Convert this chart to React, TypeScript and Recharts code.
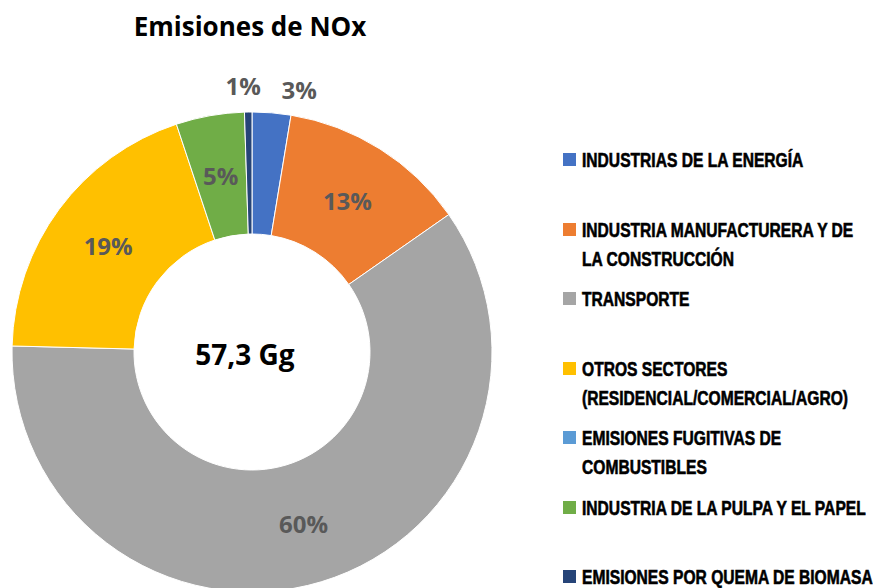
import React from "react";
import { PieChart, Pie, Cell } from "recharts";

const categories = [
  "INDUSTRIAS DE LA ENERGÍA",
  "INDUSTRIA MANUFACTURERA Y DE LA CONSTRUCCIÓN",
  "TRANSPORTE",
  "OTROS SECTORES (RESIDENCIAL/COMERCIAL/AGRO)",
  "EMISIONES FUGITIVAS DE COMBUSTIBLES",
  "INDUSTRIA DE LA PULPA Y EL PAPEL",
  "EMISIONES POR QUEMA DE BIOMASA",
];
const legendLines = [
  ["INDUSTRIAS DE LA ENERGÍA"],
  ["INDUSTRIA MANUFACTURERA Y DE", "LA CONSTRUCCIÓN"],
  ["TRANSPORTE"],
  ["OTROS SECTORES", "(RESIDENCIAL/COMERCIAL/AGRO)"],
  ["EMISIONES FUGITIVAS DE", "COMBUSTIBLES"],
  ["INDUSTRIA DE LA PULPA Y EL PAPEL"],
  ["EMISIONES POR QUEMA DE BIOMASA"],
];
const shares = [2.6, 12.7, 60.1, 19.5, 0.0, 4.6, 0.5];
const percentLabels = ["3%", "13%", "60%", "19%", "", "5%", "1%"];
const colors = ["#4472C4", "#ED7D31", "#A5A5A5", "#FFC000", "#5B9BD5", "#70AD47", "#264478"];
const outsideLabel = [true, false, false, false, false, false, true];
const labelAngleNudge = [-5.5, 0, 0, 0, 0, 0, 1];
const title = "Emisiones de NOx";
const centerText = "57,3 Gg";

const data = categories.map((name, i) => ({ name, value: shares[i] }));

const RAD = Math.PI / 180;

const renderLabel = (props: any) => {
  const { cx, cy, midAngle, innerRadius, outerRadius, index } = props;
  const txt = percentLabels[index];
  if (!txt) return null;
  const r = outsideLabel[index] ? outerRadius + 27 : (innerRadius + outerRadius) / 2;
  const a = (midAngle + labelAngleNudge[index]) * RAD;
  const x = cx + r * Math.cos(a);
  const y = cy - r * Math.sin(a);
  return (
    <text
      x={x}
      y={y}
      textAnchor="middle"
      dominantBaseline="central"
      fill="#595959"
      fontSize={24}
      fontWeight="bold"
      fontFamily="'Open Sans', sans-serif"
    >
      {txt}
    </text>
  );
};

export default function App() {
  return (
    <div
      style={{
        position: "absolute",
        left: 0,
        top: 0,
        width: 876,
        height: 588,
        background: "#fff",
        overflow: "hidden",
      }}
    >
      <div
        style={{
          position: "absolute",
          left: 0,
          top: 7,
          width: 500,
          textAlign: "center",
          fontFamily: "'Open Sans', sans-serif",
          fontWeight: "bold",
          fontSize: 26,
          color: "#000",
          lineHeight: "38px",
        }}
      >
        {title}
      </div>
      <PieChart
        width={876}
        height={588}
        margin={{ top: 0, right: 0, bottom: 0, left: 0 }}
        style={{ position: "absolute", left: 0, top: 0 }}
      >
        <Pie
          data={data}
          dataKey="value"
          nameKey="name"
          cx={252}
          cy={352}
          innerRadius={118}
          outerRadius={240}
          startAngle={90}
          endAngle={-270}
          stroke="#fff"
          strokeWidth={1}
          label={renderLabel}
          labelLine={false}
          isAnimationActive={false}
        >
          {data.map((d, i) => (
            <Cell key={d.name} fill={colors[i]} />
          ))}
        </Pie>
        <text
          x={245}
          y={354}
          textAnchor="middle"
          dominantBaseline="central"
          fontSize={28}
          fontWeight="bold"
          fontFamily="'Open Sans', sans-serif"
          fill="#000"
        >
          {centerText}
        </text>
      </PieChart>
      <div
        style={{
          position: "absolute",
          left: 563,
          top: 146,
          fontFamily: "'Liberation Sans', Arial, sans-serif",
          fontWeight: "bold",
          fontSize: 20,
          color: "#000",
          WebkitTextStroke: "0.6px #000",
        }}
      >
        {legendLines.map((lines, i) => (
          <div key={i} style={{ height: 69.5, display: "flex", alignItems: "flex-start" }}>
            <div
              style={{
                width: 13,
                height: 13,
                background: colors[i],
                marginTop: 7,
                marginRight: 6,
                flexShrink: 0,
              }}
            />
            <div
              style={{
                lineHeight: "29px",
                whiteSpace: "nowrap",
                transform: "scaleX(0.78)",
                transformOrigin: "left center",
              }}
            >
              {lines.map((l, j) => (
                <div key={j}>{l}</div>
              ))}
            </div>
          </div>
        ))}
      </div>
    </div>
  );
}
